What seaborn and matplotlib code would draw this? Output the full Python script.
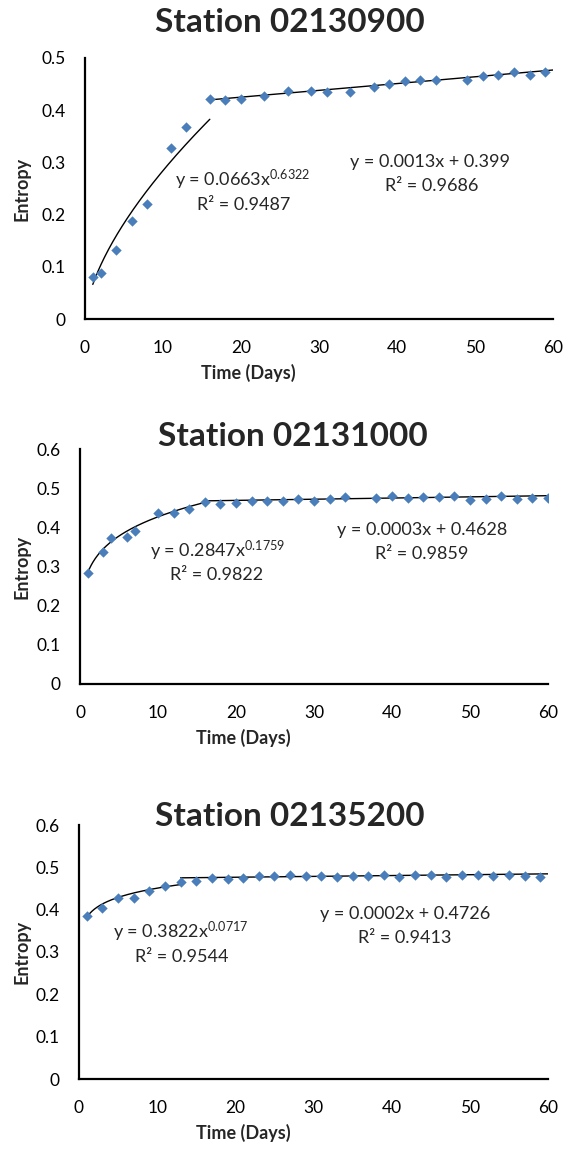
import numpy as np
import pandas as pd
import matplotlib
matplotlib.use("Agg")
import matplotlib.pyplot as plt
import seaborn as sns

# ---------------- data ----------------
station_titles = ["Station 02130900", "Station 02131000", "Station 02135200"]

s1_days = [1, 2, 4, 6, 8, 11, 13, 16, 18, 20, 23, 26, 29, 31, 34, 37, 39, 41, 43, 45,
           49, 51, 53, 55, 57, 59]
s1_entropy = [0.081, 0.089, 0.132, 0.188, 0.220, 0.328, 0.368, 0.421, 0.420, 0.421,
              0.428, 0.437, 0.437, 0.435, 0.434, 0.445, 0.450, 0.455, 0.457, 0.458,
              0.458, 0.466, 0.468, 0.473, 0.468, 0.473]

s2_days = [1, 3, 4, 6, 7, 10, 12, 14, 16, 18, 20, 22, 24, 26, 28, 30, 32, 34, 38, 40,
           42, 44, 46, 48, 50, 52, 54, 56, 58, 60]
s2_entropy = [0.284, 0.336, 0.372, 0.376, 0.390, 0.437, 0.437, 0.447, 0.465, 0.459,
              0.462, 0.468, 0.468, 0.466, 0.473, 0.466, 0.472, 0.477, 0.476, 0.480,
              0.476, 0.478, 0.477, 0.479, 0.471, 0.472, 0.480, 0.473, 0.476, 0.476]

s3_days = [1, 3, 5, 7, 9, 11, 13, 15, 17, 19, 21, 23, 25, 27, 29, 31, 33, 35, 37, 39,
           41, 43, 45, 47, 49, 51, 53, 55, 57, 59]
s3_entropy = [0.385, 0.405, 0.427, 0.427, 0.445, 0.456, 0.466, 0.468, 0.474, 0.472,
              0.474, 0.479, 0.479, 0.482, 0.480, 0.479, 0.477, 0.479, 0.480, 0.483,
              0.477, 0.482, 0.482, 0.478, 0.481, 0.483, 0.480, 0.482, 0.479, 0.477]

# trendline coefficients (as printed on the chart) and their x ranges
power_a = [0.0663, 0.2847, 0.3822]
power_b = [0.6322, 0.1759, 0.0717]
power_r2 = ["0.9487", "0.9822", "0.9544"]
power_range = [(1, 16), (1, 16), (1, 13)]
lin_m = [0.0013, 0.0003, 0.0002]
lin_c = [0.399, 0.4628, 0.4726]
lin_r2 = ["0.9686", "0.9859", "0.9413"]
lin_range = [(16, 60), (16, 60), (13, 60)]
power_txt = ["0.0663", "0.2847", "0.3822"]
power_exp_txt = ["0.6322", "0.1759", "0.0717"]
lin_txt = ["0.0013x + 0.399", "0.0003x + 0.4628", "0.0002x + 0.4726"]

x_ticks = [0, 10, 20, 30, 40, 50, 60]
x_tick_labels = ["0", "10", "20", "30", "40", "50", "60"]
y_ticks_1 = [0, 0.1, 0.2, 0.3, 0.4, 0.5]
y_tick_labels_1 = ["0", "0.1", "0.2", "0.3", "0.4", "0.5"]
y_ticks_23 = [0, 0.1, 0.2, 0.3, 0.4, 0.5, 0.6]
y_tick_labels_23 = ["0", "0.1", "0.2", "0.3", "0.4", "0.5", "0.6"]

# ---------------- style ----------------
sns.set_theme(style="white")
plt.rcParams["font.family"] = ["Lato", "DejaVu Sans"]
plt.rcParams["mathtext.fontset"] = "custom"
plt.rcParams["mathtext.rm"] = "Lato"
plt.rcParams["mathtext.it"] = "Lato:italic"
plt.rcParams["mathtext.bf"] = "Lato:bold"

W, H = 574, 1153
fig = plt.figure(figsize=(W / 100, H / 100), dpi=100)
fig.patch.set_facecolor("white")


def fx(px):
    return px / W


def fy(py):
    return 1 - py / H


# axes boxes in pixels: left, right, top, bottom
boxes = [(85, 553, 58, 319), (80, 548, 449, 684), (79, 548, 825, 1079)]
title_pos = [(290, 22), (293, 436), (290, 817)]
xlabel_pos = [(248, 373), (243, 738), (243, 1133)]
ylabel_x = 22
pow_eq_pos = [(175, 180), (150, 551), (113, 932)]
pow_r2_pos = [(244, 205), (217, 575), (182, 957)]
lin_eq_pos = [(430, 162), (422, 530), (405, 914)]
lin_r2_pos = [(432, 186), (422, 554), (405, 938)]

all_days = [s1_days, s2_days, s3_days]
all_ent = [s1_entropy, s2_entropy, s3_entropy]
yticks_all = [y_ticks_1, y_ticks_23, y_ticks_23]
ylabels_all = [y_tick_labels_1, y_tick_labels_23, y_tick_labels_23]
ylims = [0.5, 0.6, 0.6]

marker_color = "#4A7EBB"

for i in range(3):
    l, r, t, b = boxes[i]
    ax = fig.add_axes([fx(l), fy(b), (r - l) / W, (b - t) / H])
    df = pd.DataFrame({"Time (Days)": all_days[i], "Entropy": all_ent[i]})

    # trendlines
    p0, p1 = power_range[i]
    xp = np.linspace(p0, p1, 200)
    dfp = pd.DataFrame({"x": xp, "y": power_a[i] * xp ** power_b[i]})
    sns.lineplot(data=dfp, x="x", y="y", ax=ax, color="black", lw=1.0,
                 estimator=None, sort=False, zorder=2)
    l0, l1 = lin_range[i]
    xl = np.array([l0, l1], dtype=float)
    dfl = pd.DataFrame({"x": xl, "y": lin_m[i] * xl + lin_c[i]})
    sns.lineplot(data=dfl, x="x", y="y", ax=ax, color="black", lw=1.0,
                 estimator=None, sort=False, zorder=2)

    sns.scatterplot(data=df, x="Time (Days)", y="Entropy", ax=ax, marker="D",
                    s=28, color=marker_color, linewidth=0, zorder=3)

    ax.set_xlim(0, 60)
    ax.set_ylim(0, ylims[i])
    ax.set_xticks(x_ticks)
    ax.set_xticklabels(x_tick_labels)
    ax.set_yticks(yticks_all[i])
    ax.set_yticklabels(ylabels_all[i])
    ax.set_xlabel("")
    ax.set_ylabel("")
    for s in ["top", "right"]:
        ax.spines[s].set_visible(False)
    for s in ["left", "bottom"]:
        ax.spines[s].set_color("black")
        ax.spines[s].set_linewidth(1.6)
    ax.tick_params(axis="both", direction="in", length=4, width=1.0,
                   colors="black", labelsize=12.5)
    ax.tick_params(axis="x", pad=15)
    ax.tick_params(axis="y", pad=14)
    ax.set_facecolor("white")

    # titles & labels
    fig.text(fx(title_pos[i][0]), fy(title_pos[i][1]), station_titles[i],
             ha="center", va="center", fontsize=24, fontweight="bold")
    fig.text(fx(xlabel_pos[i][0]), fy(xlabel_pos[i][1]), "Time (Days)",
             ha="center", va="center", fontsize=13, fontweight="bold")
    fig.text(fx(ylabel_x), fy((t + b) / 2), "Entropy", rotation=90,
             ha="center", va="center", fontsize=13, fontweight="bold")

    # equations
    fig.text(fx(pow_eq_pos[i][0]), fy(pow_eq_pos[i][1]),
             "y = " + power_txt[i] + "x$^{\\mathrm{" + power_exp_txt[i] + "}}$",
             ha="left", va="center", fontsize=13)
    fig.text(fx(pow_r2_pos[i][0]), fy(pow_r2_pos[i][1]), "R² = " + power_r2[i],
             ha="center", va="center", fontsize=13)
    fig.text(fx(lin_eq_pos[i][0]), fy(lin_eq_pos[i][1]), "y = " + lin_txt[i],
             ha="center", va="center", fontsize=13)
    fig.text(fx(lin_r2_pos[i][0]), fy(lin_r2_pos[i][1]), "R² = " + lin_r2[i],
             ha="center", va="center", fontsize=13)

fig.savefig("out.png", dpi=100, facecolor="white")
